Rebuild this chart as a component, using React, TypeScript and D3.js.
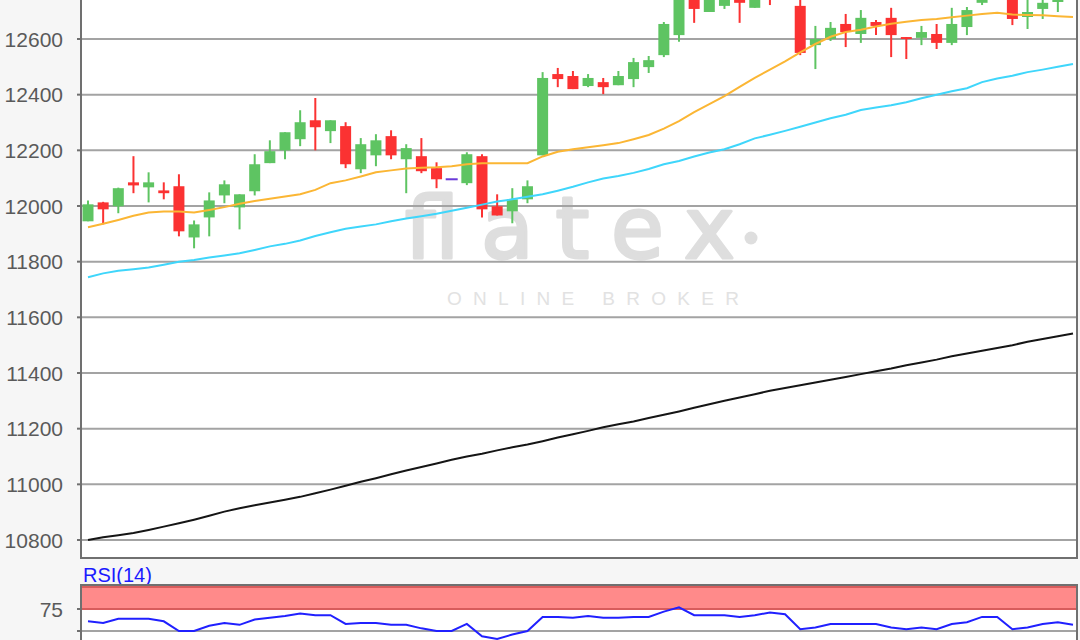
import React from "react";
import * as d3 from "d3";

// OHLC per session (visible window; values above ~12740 are off the top of the picture)
const opens = [11945, 12013, 11999, 12085, 12067, 12056, 12071, 11887, 11959, 12038, 11995, 12053, 12154, 12200, 12240, 12308, 12269, 12287, 12132, 12182, 12251, 12168, 12179, 12136, 12096, 12082, 12179, 11999, 11981, 12024, 12182, 12474, 12467, 12431, 12445, 12434, 12456, 12499, 12542, 12614, 12760, 12697, 12719, 12750, 12712, 12780, 12760, 12719, 12578, 12600, 12654, 12618, 12661, 12676, 12607, 12604, 12618, 12586, 12643, 12730, 12760, 12750, 12679, 12708, 12733, 12750];
const highs = [12020, 12015, 12066, 12179, 12121, 12085, 12114, 11948, 12049, 12092, 12042, 12186, 12236, 12265, 12344, 12388, 12308, 12301, 12244, 12258, 12272, 12222, 12244, 12157, 12096, 12193, 12186, 12042, 12064, 12092, 12481, 12496, 12485, 12474, 12460, 12485, 12532, 12539, 12661, 12790, 12775, 12760, 12755, 12770, 12760, 12800, 12810, 12765, 12647, 12661, 12690, 12704, 12668, 12712, 12607, 12647, 12654, 12712, 12715, 12770, 12810, 12770, 12745, 12745, 12760, 12790];
const lows = [11945, 11934, 11974, 12046, 12013, 12024, 11891, 11848, 11891, 12010, 11916, 12038, 12154, 12168, 12215, 12200, 12226, 12136, 12118, 12143, 12168, 12046, 12118, 12064, 12096, 12075, 11959, 11966, 11938, 12010, 12182, 12427, 12420, 12427, 12402, 12434, 12427, 12478, 12535, 12590, 12658, 12697, 12708, 12658, 12712, 12722, 12745, 12542, 12492, 12593, 12571, 12586, 12614, 12535, 12528, 12578, 12564, 12578, 12614, 12722, 12750, 12650, 12636, 12672, 12697, 12745];
const closes = [12006, 11988, 12064, 12074, 12085, 12046, 11909, 11934, 12020, 12078, 12042, 12150, 12197, 12265, 12301, 12283, 12308, 12150, 12222, 12236, 12182, 12208, 12125, 12096, 12096, 12186, 11988, 11966, 12024, 12071, 12460, 12456, 12420, 12460, 12427, 12467, 12517, 12524, 12654, 12760, 12708, 12745, 12745, 12730, 12745, 12750, 12790, 12550, 12600, 12640, 12625, 12676, 12647, 12614, 12600, 12625, 12586, 12654, 12704, 12755, 12800, 12672, 12697, 12730, 12750, 12770];

// moving averages (orange, cyan, black)
const maShort = [11924, 11936, 11950, 11965, 11977, 11980, 11980, 11977, 11986, 11996, 12008, 12018, 12026, 12034, 12042, 12058, 12082, 12092, 12106, 12121, 12128, 12135, 12137, 12139, 12143, 12150, 12154, 12154, 12154, 12154, 12178, 12195, 12204, 12211, 12218, 12226, 12240, 12255, 12278, 12305, 12337, 12366, 12395, 12428, 12460, 12490, 12520, 12552, 12582, 12608, 12625, 12633, 12645, 12655, 12662, 12668, 12672, 12678, 12684, 12690, 12694, 12688, 12686, 12685, 12682, 12679];
const maMid = [11744, 11758, 11767, 11773, 11779, 11789, 11800, 11806, 11815, 11822, 11830, 11842, 11855, 11864, 11876, 11892, 11906, 11918, 11926, 11934, 11945, 11955, 11963, 11972, 11983, 11994, 12005, 12016, 12024, 12033, 12042, 12055, 12069, 12085, 12099, 12108, 12119, 12133, 12150, 12162, 12178, 12192, 12204, 12222, 12243, 12256, 12270, 12285, 12300, 12315, 12328, 12345, 12354, 12362, 12373, 12387, 12400, 12412, 12423, 12445, 12458, 12468, 12481, 12490, 12500, 12510];
const maLong = [10800, 10810, 10817, 10825, 10836, 10848, 10860, 10873, 10887, 10902, 10914, 10925, 10935, 10945, 10955, 10968, 10981, 10995, 11009, 11022, 11036, 11050, 11062, 11075, 11088, 11100, 11110, 11122, 11133, 11143, 11155, 11168, 11180, 11192, 11205, 11216, 11226, 11238, 11250, 11262, 11275, 11288, 11300, 11312, 11324, 11336, 11346, 11356, 11366, 11376, 11386, 11396, 11406, 11416, 11428, 11438, 11448, 11460, 11470, 11480, 11490, 11500, 11512, 11522, 11532, 11542];
const rsi14 = [61, 59, 64, 64, 64, 61, 50, 50, 56, 59, 57, 63, 65, 67, 70, 68, 68, 58, 59, 59, 57, 57, 53, 50, 50, 58, 44, 41, 46, 50, 66, 66, 65, 67, 65, 65, 66, 66, 72, 77, 68, 68, 68, 66, 68, 71, 69, 52, 54, 58, 58, 58, 58, 54, 52, 54, 52, 58, 60, 66, 66, 52, 54, 58, 60, 57];

const priceTicks = [10800, 11000, 11200, 11400, 11600, 11800, 12000, 12200, 12400, 12600];
const rsiTicks = [75];
const rsiGrid = [50];
const rsiLabel = "RSI(14)";

export default function App() {
  const W = 1080;
  const H = 640;
  const n = opens.length;
  const left = 81;
  const right = 1077;
  const mainBottom = 558;
  const rsiTop = 585;

  const x = d3.scaleLinear().domain([0, n - 1]).range([88, 1073]);
  const y = d3.scaleLinear().domain([10800, 12600]).range([540, 39]);
  const yr = d3.scaleLinear().domain([50, 75]).range([631, 609]);

  const lineP = (arr: number[]) =>
    d3.line<number>().x((_, i) => x(i)).y((d) => y(d))(arr) || "";
  const rsiPath = d3.line<number>().x((_, i) => x(i)).y((d) => yr(d))(rsi14) || "";

  const bodyW = 11;
  const green = "#5ec462";
  const red = "#fb3232";
  const doji = "#6a3ad8";
  const font = "'Liberation Sans', Arial, sans-serif";

  return (
    <div>
      <style>{"body{margin:0;}"}</style>
      <svg width={W} height={H} style={{ display: "block" }}>
        <defs>
          <clipPath id="mainClip">
            <rect x={left} y={-100} width={right - left} height={mainBottom + 100} />
          </clipPath>
          <clipPath id="rsiClip">
            <rect x={left} y={rsiTop} width={right - left} height={H - rsiTop} />
          </clipPath>
        </defs>
        <rect x={0} y={0} width={W} height={H} fill="#f6f6f6" />
        <rect x={left} y={0} width={right - left} height={mainBottom} fill="#ffffff" />
        <rect x={left} y={rsiTop} width={right - left} height={H - rsiTop} fill="#ffffff" />

        {/* watermark */}
        <g fill="#dedede">
          <text x={405} y={258} fontFamily="'DejaVu Sans', sans-serif" fontSize={86} stroke="#dedede" strokeWidth={3} strokeLinejoin="round" textLength={330} lengthAdjust="spacing">flatex</text>
          <circle cx={751} cy={238} r={6.5} />
          <text x={447} y={305} fontFamily={font} fontSize={19} textLength={292} lengthAdjust="spacing" fill="#e2e2e2">ONLINE BROKER</text>
        </g>

        {/* grid */}
        {priceTicks.map((t) => (
          <g key={t}>
            <line x1={left} x2={right} y1={y(t)} y2={y(t)} stroke="#a3a3a3" strokeWidth={2} />
            <line x1={left - 4} x2={left} y1={y(t)} y2={y(t)} stroke="#707070" strokeWidth={2} />
            <text x={63} y={y(t) + 7.5} textAnchor="end" fontFamily={font} fontSize={21} fill="#5a5a5a">{t}</text>
          </g>
        ))}

        {/* candles */}
        <g clipPath="url(#mainClip)">
          {opens.map((o, i) => {
            const c = closes[i];
            const col = o === c ? doji : c > o ? green : red;
            const top = y(Math.max(o, c));
            const bot = y(Math.min(o, c));
            const cx = x(i);
            return (
              <g key={i}>
                <line x1={cx} x2={cx} y1={y(highs[i])} y2={y(lows[i])} stroke={col} strokeWidth={2} />
                {o === c ? (
                  <rect x={cx - bodyW / 2 - 0.5} y={top - 1} width={bodyW + 1} height={2} fill={col} />
                ) : (
                  <rect x={cx - bodyW / 2} y={top} width={bodyW} height={Math.max(bot - top, 1.5)} fill={col} />
                )}
              </g>
            );
          })}
          <path d={lineP(maLong)} fill="none" stroke="#151515" strokeWidth={2} />
          <path d={lineP(maMid)} fill="none" stroke="#3fd6fb" strokeWidth={2} />
          <path d={lineP(maShort)} fill="none" stroke="#fbb634" strokeWidth={2} />
        </g>

        {/* main borders */}
        <line x1={left} x2={left} y1={0} y2={mainBottom} stroke="#707070" strokeWidth={2} />
        <line x1={right} x2={right} y1={0} y2={mainBottom} stroke="#707070" strokeWidth={2} />
        <line x1={left - 1} x2={right + 1} y1={mainBottom} y2={mainBottom} stroke="#707070" strokeWidth={2} />

        {/* RSI panel */}
        <text x={83} y={582} fontFamily={font} fontSize={20} fill="#1a1aff">{rsiLabel}</text>
        <g clipPath="url(#rsiClip)">
          <rect x={left} y={yr(100)} width={right - left} height={yr(75) - yr(100)} fill="#ff8a8a" />
          <line x1={left} x2={right} y1={yr(100)} y2={yr(100)} stroke="#d85c5c" strokeWidth={2} />
          <line x1={left} x2={right} y1={yr(75)} y2={yr(75)} stroke="#d85c5c" strokeWidth={2} />
          {rsiGrid.map((t) => (
            <line key={t} x1={left} x2={right} y1={yr(t)} y2={yr(t)} stroke="#a3a3a3" strokeWidth={2} />
          ))}
          <path d={rsiPath} fill="none" stroke="#2020ff" strokeWidth={2} />
        </g>
        {rsiTicks.map((t) => (
          <g key={t}>
            <line x1={left - 4} x2={left} y1={yr(t)} y2={yr(t)} stroke="#707070" strokeWidth={2} />
            <text x={63} y={yr(t) + 7.5} textAnchor="end" fontFamily={font} fontSize={21} fill="#5a5a5a">{t}</text>
          </g>
        ))}
        {rsiGrid.map((t) => (
          <line key={t} x1={left - 4} x2={left} y1={yr(t)} y2={yr(t)} stroke="#707070" strokeWidth={2} />
        ))}
        <line x1={left - 1} x2={right + 1} y1={rsiTop} y2={rsiTop} stroke="#707070" strokeWidth={2} />
        <line x1={left} x2={left} y1={rsiTop} y2={H} stroke="#707070" strokeWidth={2} />
        <line x1={right} x2={right} y1={rsiTop} y2={H} stroke="#707070" strokeWidth={2} />
      </svg>
    </div>
  );
}
